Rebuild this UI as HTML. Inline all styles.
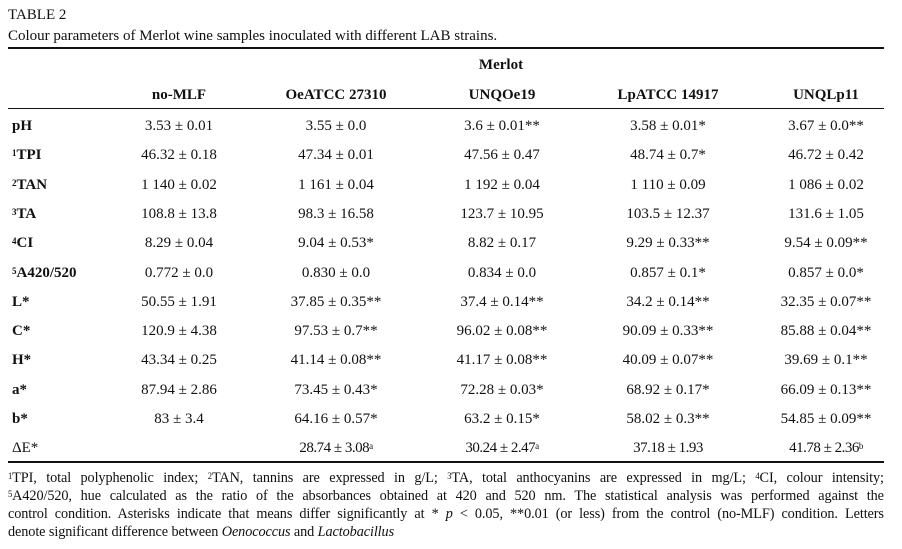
<!DOCTYPE html>
<html><head><meta charset="utf-8"><style>
body{margin:0;background:#fff;}
#p{position:relative;width:902px;height:549px;font-family:"Liberation Serif",serif;color:#111;font-size:15px;overflow:hidden;}
.a{position:absolute;white-space:nowrap;line-height:18px;}
.c{transform:translateX(-50%);}
.b{font-weight:bold;}
.rule{position:absolute;left:8px;width:876px;background:#111;}
.fn{position:absolute;left:8px;width:922px;font-size:15px;letter-spacing:-0.1px;line-height:18px;text-align:justify;text-align-last:justify;white-space:nowrap;transform:scaleX(0.95);transform-origin:0 0;}
sup{font-size:9px;vertical-align:top;position:relative;top:-2px;}
</style></head><body>
<div id="p">
<div class="a" style="left:8px;top:6px">TABLE 2</div>
<div class="a" style="left:8px;top:27px">Colour parameters of Merlot wine samples inoculated with different LAB strains.</div>
<div class="rule" style="top:47px;height:2px"></div>
<div class="a b c" style="left:501px;top:56px">Merlot</div>
<div id="hdr"></div>
<div class="rule" style="top:108px;height:1px"></div>
<div id="body"></div>
<div class="rule" style="top:461px;height:2px"></div>
<div class="fn" style="top:469px"><sup>1</sup>TPI, total polyphenolic index; <sup>2</sup>TAN, tannins are expressed in g/L; <sup>3</sup>TA, total anthocyanins are expressed in mg/L; <sup>4</sup>CI, colour intensity;</div>
<div class="fn" style="top:487px"><sup>5</sup>A420/520, hue calculated as the ratio of the absorbances obtained at 420 and 520 nm. The statistical analysis was performed against the</div>
<div class="fn" style="top:505px">control condition. Asterisks indicate that means differ significantly at * <i>p</i> &lt; 0.05, **0.01 (or less) from the control (no-MLF) condition. Letters</div>
<div class="fn" style="top:523px;text-align-last:left">denote significant difference between <i>Oenococcus</i> and <i>Lactobacillus</i></div>
</div>
<script>
const columns=["no-MLF","OeATCC 27310","UNQOe19","LpATCC 14917","UNQLp11"];
const rowLabels=["pH","<sup>1</sup>TPI","<sup>2</sup>TAN","<sup>3</sup>TA","<sup>4</sup>CI","<sup>5</sup>A420/520","L*","C*","H*","a*","b*","ΔE*"];
const cells=[
["3.53 ± 0.01","3.55 ± 0.0","3.6 ± 0.01**","3.58 ± 0.01*","3.67 ± 0.0**"],
["46.32 ± 0.18","47.34 ± 0.01","47.56 ± 0.47","48.74 ± 0.7*","46.72 ± 0.42"],
["1 140 ± 0.02","1 161 ± 0.04","1 192 ± 0.04","1 110 ± 0.09","1 086 ± 0.02"],
["108.8 ± 13.8","98.3 ± 16.58","123.7 ± 10.95","103.5 ± 12.37","131.6 ± 1.05"],
["8.29 ± 0.04","9.04 ± 0.53*","8.82 ± 0.17","9.29 ± 0.33**","9.54 ± 0.09**"],
["0.772 ± 0.0","0.830 ± 0.0","0.834 ± 0.0","0.857 ± 0.1*","0.857 ± 0.0*"],
["50.55 ± 1.91","37.85 ± 0.35**","37.4 ± 0.14**","34.2 ± 0.14**","32.35 ± 0.07**"],
["120.9 ± 4.38","97.53 ± 0.7**","96.02 ± 0.08**","90.09 ± 0.33**","85.88 ± 0.04**"],
["43.34 ± 0.25","41.14 ± 0.08**","41.17 ± 0.08**","40.09 ± 0.07**","39.69 ± 0.1**"],
["87.94 ± 2.86","73.45 ± 0.43*","72.28 ± 0.03*","68.92 ± 0.17*","66.09 ± 0.13**"],
["83 ± 3.4","64.16 ± 0.57*","63.2 ± 0.15*","58.02 ± 0.3**","54.85 ± 0.09**"],
["","28.74 ± 3.08<sup>a</sup>","30.24 ± 2.47<sup>a</sup>","37.18 ± 1.93","41.78 ± 2.36<sup>b</sup>"]
];
const colX=[179,336,502,668,826];
const hdr=document.getElementById('hdr');
columns.forEach((c,i)=>{const d=document.createElement('div');d.className='a b c';d.style.left=colX[i]+'px';d.style.top='86px';d.textContent=c;


hdr.appendChild(d);});
const body=document.getElementById('body');
rowLabels.forEach((r,j)=>{const y=117+j*29.3;
const l=document.createElement('div');l.className='a'+(j<11?' b':'');l.style.left='12px';l.style.top=y+'px';l.innerHTML=r;


body.appendChild(l);
cells[j].forEach((v,i)=>{if(!v)return;const d=document.createElement('div');d.className='a c';d.style.left=colX[i]+'px';d.style.top=y+'px';d.innerHTML=v;
if(j==11){d.style.letterSpacing='-0.5px';}


body.appendChild(d);});});
</script>
</body></html>
